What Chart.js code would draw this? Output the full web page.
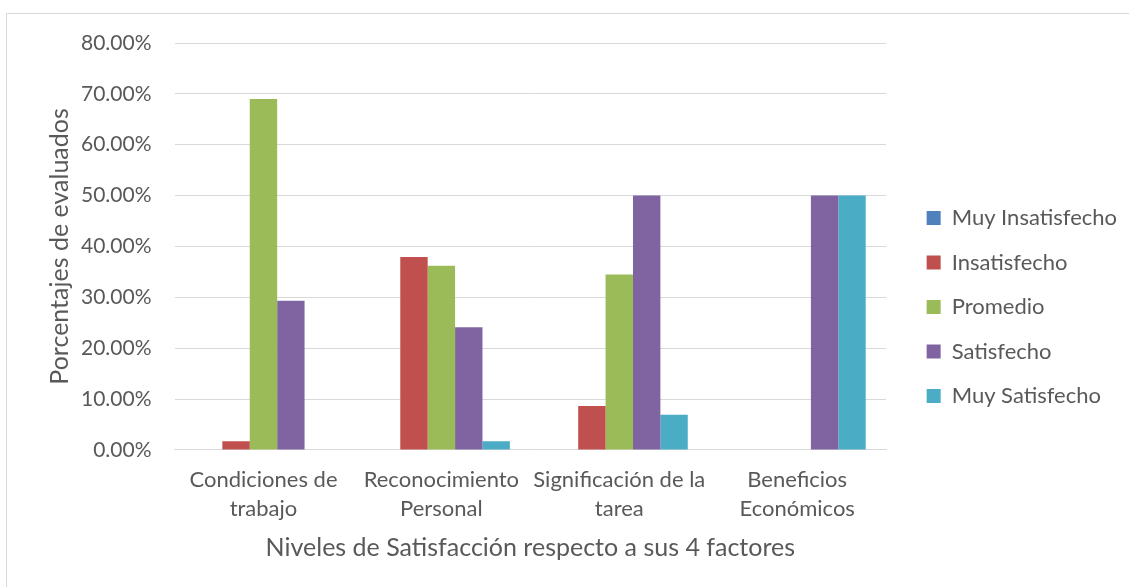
<!DOCTYPE html>
<html>
<head>
<meta charset="utf-8">
<script src="https://cdn.jsdelivr.net/npm/chart.js@4"></script>
<style>
  html, body { margin: 0; padding: 0; background: #fff; overflow: hidden; }
  #frame {
    position: absolute; left: 6px; top: 13px; width: 1140px; height: 600px;
    border: 1px solid #d9d9d9; box-sizing: border-box;
  }
  #wrap { position: absolute; left: 0; top: 0; width: 1129px; height: 587px; }
</style>
</head>
<body>
<div id="frame"></div>
<div id="wrap"><canvas id="chart"></canvas></div>
<script>
const categories = [
  ['Condiciones de', 'trabajo'],
  ['Reconocimiento', 'Personal'],
  ['Significación de la', 'tarea'],
  ['Beneficios', 'Económicos']
]
const seriesNames = ['Muy Insatisfecho', 'Insatisfecho', 'Promedio', 'Satisfecho', 'Muy Satisfecho']
const muyInsatisfecho = [0, 0, 0, 0]
const insatisfecho = [1.72, 37.93, 8.62, 0]
const promedio = [68.97, 36.21, 34.48, 0]
const satisfecho = [29.31, 24.14, 50.0, 50.0]
const muySatisfecho = [0, 1.72, 6.9, 50.0]
const colors = ['#4f81bd', '#c0504d', '#9bbb59', '#8064a2', '#4bacc6']

const font = "Lato, 'Open Sans', sans-serif"
const gray = '#595959'

const values = [muyInsatisfecho, insatisfecho, promedio, satisfecho, muySatisfecho]

// push the legend away from the plot (Excel leaves a gap there)
const legendGap = {
  id: 'legendGap',
  afterInit(chart) {
    const lg = chart.legend
    const fit = lg.fit
    lg.fit = function () {
      fit.call(this)
      this.width += 18
    }
  },
  afterLayout(chart) {
    const lg = chart.legend
    lg.left += 18
    lg.top += 4
    lg.bottom += 4
  },
}

function draw() {
  new Chart(document.getElementById('chart'), {
    type: 'bar',
    data: {
      labels: categories,
      datasets: seriesNames.map((name, i) => ({
        label: name,
        data: values[i],
        backgroundColor: colors[i],
        borderWidth: 0,
        categoryPercentage: 0.77,
        barPercentage: 1.0,
      })),
    },
    plugins: [legendGap],
    options: {
      responsive: true,
      maintainAspectRatio: false,
      animation: false,
      layout: { padding: { left: 40, top: 43, right: 2, bottom: 24 } },
      plugins: {
        tooltip: { enabled: false },
        legend: {
          position: 'right',
          labels: {
            color: gray,
            font: { family: font, size: 22 },
            boxWidth: 14,
            boxHeight: 14,
            padding: 22.5,
          },
        },
      },
      scales: {
        x: {
          grid: { display: false, drawTicks: false },
          border: { color: '#d9d9d9', width: 1 },
          ticks: {
            color: gray,
            font: { family: font, size: 22, lineHeight: 1.32 },
            maxRotation: 0,
            autoSkip: false,
            padding: 15,
          },
          title: {
            display: true,
            text: 'Niveles de Satisfacción respecto a sus 4 factores',
            color: gray,
            font: { family: font, size: 25 },
            padding: { top: -5, bottom: 0 },
          },
        },
        y: {
          min: 0,
          max: 80,
          border: { display: false },
          grid: { color: '#d9d9d9', lineWidth: 1, drawTicks: false },
          ticks: {
            stepSize: 10,
            color: gray,
            font: { family: font, size: 21 },
            padding: 23,
            callback: v => v.toFixed(2) + '%',
          },
          title: {
            display: true,
            text: 'Porcentajes de evaluados',
            color: gray,
            font: { family: font, size: 25 },
            padding: { top: 5, bottom: -17 },
          },
        },
      },
    },
  })
}

// make sure Lato is ready before Chart.js measures (and caches) text widths
Promise.all([
  document.fonts.load('22px Lato'),
  document.fonts.load('25px Lato'),
]).then(draw, draw)
</script>
</body>
</html>
